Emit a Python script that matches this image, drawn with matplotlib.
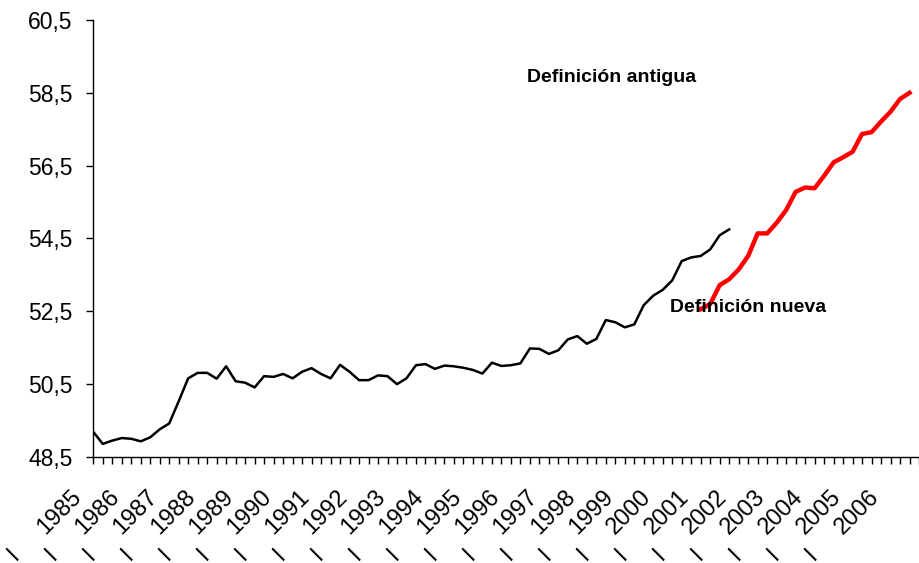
import matplotlib
matplotlib.use('Agg')
import matplotlib.pyplot as plt
import numpy as np

plt.rcParams['font.family'] = ['Liberation Sans', 'DejaVu Sans']

# quarterly series, 1985 I onwards
years = list(range(1985, 2007))
old_def = [49.19, 48.86, 48.95, 49.02, 49.00, 48.93, 49.04, 49.26, 49.42, 50.03,
           50.66, 50.81, 50.81, 50.65, 50.99, 50.58, 50.54, 50.41, 50.72, 50.70,
           50.78, 50.66, 50.84, 50.94, 50.78, 50.66, 51.03, 50.84, 50.61, 50.61,
           50.74, 50.72, 50.50, 50.66, 51.02, 51.05, 50.92, 51.01, 50.99, 50.95,
           50.89, 50.79, 51.09, 51.00, 51.02, 51.07, 51.48, 51.47, 51.33, 51.43,
           51.73, 51.82, 51.61, 51.74, 52.26, 52.20, 52.06, 52.14, 52.67, 52.93,
           53.09, 53.35, 53.88, 53.98, 54.02, 54.20, 54.59, 54.75]
new_start = 64  # new definition starts in 2001 I
new_def = [52.56, 52.70, 53.22, 53.38, 53.65, 54.02, 54.64, 54.64, 54.93, 55.28,
           55.78, 55.90, 55.88, 56.22, 56.59, 56.73, 56.88, 57.37, 57.42, 57.71,
           57.98, 58.33, 58.50]
yticks = [48.5, 50.5, 52.5, 54.5, 56.5, 58.5, 60.5]

x_old = np.arange(len(old_def))
x_new = np.arange(new_start, new_start + len(new_def))
n_quarters = len(years) * 4

fig = plt.figure(figsize=(9.19, 5.63), dpi=100)
ax = fig.add_axes([0.1015, 0.1883, 0.8985, 0.7762])

ax.plot(x_old, old_def, color='black', lw=1.8, solid_joinstyle='round')
ax.plot(x_new, new_def, color='#ff0000', lw=3.2, solid_joinstyle='round')

ax.set_ylim(48.5, 60.5)
ax.set_xlim(0, 85.6)
ax.set_yticks(yticks)
ax.set_yticklabels([f'{v:.1f}'.replace('.', ',') for v in yticks], fontsize=16.5)
ax.set_xticks(np.arange(n_quarters))
ax.set_xticklabels([])
ax.tick_params(axis='both', direction='out', length=5, width=1, color='black')
ax.tick_params(axis='y', pad=10)

for s in ['top', 'right']:
    ax.spines[s].set_visible(False)
for s in ['left', 'bottom']:
    ax.spines[s].set_linewidth(1.0)
    ax.spines[s].set_color('black')

# year labels with quarter mark, every 4 quarters
for k, yr in enumerate(years):
    ax.annotate(str(yr), xy=(k * 4, 0), xycoords=('data', 'axes fraction'),
                xytext=(-15, -37), textcoords='offset pixels',
                ha='right', va='center', rotation=45, rotation_mode='anchor',
                fontsize=17, annotation_clip=False)
    ax.annotate('I', xy=(k * 4, 0), xycoords=('data', 'axes fraction'),
                xytext=(-79, -97), textcoords='offset pixels',
                ha='center', va='center', rotation=45, rotation_mode='anchor',
                fontsize=17, annotation_clip=False)

fig.text(527 / 919, 1 - 78 / 563, 'Definición antigua', fontsize=14,
         fontweight='bold', ha='left', va='center')
fig.text(670 / 919, 1 - 307 / 563, 'Definición nueva', fontsize=14,
         fontweight='bold', ha='left', va='center')

fig.savefig('out.png', dpi=100)
